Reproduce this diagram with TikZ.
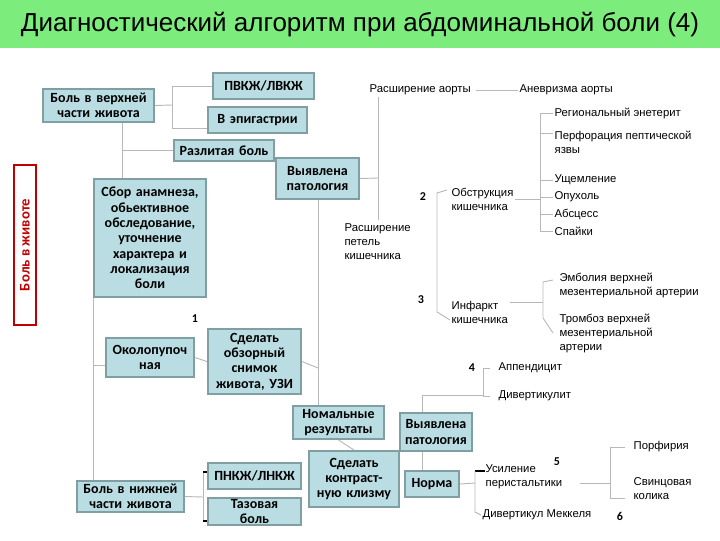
\documentclass[tikz,border=0pt]{standalone}
\usepackage{fontspec}
\setmainfont{Liberation Sans}
\newfontfamily\boxfont{Carlito}
\definecolor{boxfill}{HTML}{B9DDE2}
\definecolor{boxedge}{HTML}{7F9FA3}
\definecolor{ln}{HTML}{B8B8B8}
\definecolor{titlegreen}{HTML}{7CEC7C}
\definecolor{redbox}{HTML}{C00000}
\begin{document}
\begin{tikzpicture}[x=0.75pt,y=-0.75pt,
  bx/.style={draw=boxedge,line width=1.2pt,fill=boxfill,font=\boxfont\bfseries\fontsize{10.5}{11.5}\selectfont,align=center,inner sep=1pt,anchor=north west},
  tx/.style={font=\fontsize{8.5}{10.5}\selectfont,align=left,anchor=west,inner sep=1pt},
  num/.style={font=\boxfont\bfseries\fontsize{9}{10}\selectfont,inner sep=0pt},
  cn/.style={draw=ln,line width=0.7pt}]
\useasboundingbox (0,0) rectangle (720,540);
\fill[titlegreen] (0,0) rectangle (720,48);
\node[font=\fontsize{19.5}{22}\selectfont] (title) at (360,25) {Диагностический алгоритм при абдоминальной боли (4)};
% boxes
\newcommand{\bxn}[6]{\node[bx,minimum width=#4*0.75pt-1.2pt,minimum height=#5*0.75pt-1.2pt,text width=#4*0.75pt-4pt] (#1) at (#2,#3) {#6};}
\bxn{up}{42}{88}{113}{35}{Боль в верхней\\части живота}
\bxn{pv}{212}{72}{103}{28}{ПВКЖ/ЛВКЖ}
\bxn{ep}{207}{106}{101}{28}{В эпигастрии}
\bxn{raz}{173}{139}{102}{23}{Разлитая боль}
\bxn{vp1}{275}{157}{85}{43}{Выявлена\\патология}
\bxn{sb}{93}{178}{114}{120}{Сбор анамнеза,\\обьективное\\обследование,\\уточнение\\характера и\\локализация\\боли}
\bxn{ok}{105}{337}{90}{41}{Околопупоч\\ная}
\bxn{sn}{207}{328}{95}{67}{Сделать\\обзорный\\снимок\\живота, УЗИ}
\bxn{nr}{292}{405}{93}{35}{Номальные\\результаты}
\bxn{vp2}{399}{412}{74}{40}{Выявлена\\патология}
\bxn{kl}{308}{450}{92}{58}{Сделать\\контраст-\\ную клизму}
\bxn{nm}{404}{470}{56}{28}{Норма}
\bxn{pn}{207}{462}{95}{28}{ПНКЖ/ЛНКЖ}
\bxn{tz}{207}{497}{95}{28}{Тазовая\\боль}
\bxn{dn}{76}{480}{109}{33}{Боль в нижней\\части живота}
\node[draw=redbox,line width=1.5pt,fill=white,rotate=90,minimum width=160*0.75pt,minimum height=22*0.75pt,inner sep=0pt,font=\boxfont\bfseries\fontsize{11}{12}\selectfont,text=redbox] (side) at (25,245) {Боль в животе};
% plain texts
\node[tx] (ra) at (368,90) {Расширение аорты};
\node[tx] (an) at (518,90) {Аневризма аорты};
\node[tx] (re) at (553,113) {Региональный энетерит};
\node[tx] (pe) at (553,142) {Перфорация пептической\\язвы};
\node[tx] (us) at (553,180) {Ущемление};
\node[tx] (op) at (553,197) {Опухоль};
\node[tx] (ab) at (553,214) {Абсцесс};
\node[tx] (sp) at (553,231) {Спайки};
\node[num] (n2) at (423,197) {2};
\node[tx] (ob) at (450,199) {Обструкция\\кишечника};
\node[tx] (rp) at (343,242) {Расширение\\петель\\кишечника};
\node[num] (n3) at (421,300) {3};
\node[tx] (in) at (450,312) {Инфаркт\\кишечника};
\node[tx] (em) at (558,285) {Эмболия верхней\\мезентериальной артерии};
\node[tx] (tr) at (558,333) {Тромбоз верхней\\мезентериальной\\артерии};
\node[num] (n4) at (472,368) {4};
\node[tx] (ap) at (497,368) {Аппендицит};
\node[tx] (dv) at (497,396) {Дивертикулит};
\node[tx] (po) at (632,447) {Порфирия};
\node[num] (n5) at (557,462) {5};
\node[tx] (ui) at (484,477) {Усиление\\перистальтики};
\node[tx] (sv) at (632,489) {Свинцовая\\колика};
\node[tx] (mk) at (481,515) {Дивертикул Меккеля};
\node[num] (n6) at (620,516) {6};
\node[num] (n1) at (195,319) {1};
% connectors
\draw[cn] (up.east) -- (172,105);
\draw[cn] (172,86) -- (172,128);
\draw[cn] (172,86) -- (pv.west |- 0,86);
\draw[cn] (172,128) -- (ep.west |- 0,128);
\draw[cn] (up.south -| 122,0) -- (sb.north -| 122,0);
\draw[cn] (122,150) -- (raz.west |- 0,150);
\draw[cn] (sb.south west) -- (dn.north -| 93,0);
\draw[cn] (93,365) -- (ok.west |- 0,365);
\draw[cn] (ok.east) -- (sn.west);
\draw[cn] (vp1.south -| 318,0) -- (nr.north -| 318,0);
\draw[cn] (sn.east) -- (318,368);
\draw[cn] (vp1.east) -- (378,178);
\draw[cn] (378,97) -- (378,220);
\draw[cn] (ra.east) ++(4,0) -- (an.west);
\draw[cn] (447,190) -- (437,193) -- (437,312) -- (450,320);
\draw[cn] (ob.east) -- (540,199);
\draw[cn] (540,113) -- (540,231);
\foreach \y/\t in {113/re,133/pe,180/us,197/op,214/ab,231/sp} \draw[cn] (540,\y) -- (\t.west |- 0,\y);
\draw[cn] (in.east |- 0,302) -- (543,302);
\draw[cn] (553,280) -- (543,282) -- (543,318) -- (553,333);
\draw[cn] (vp2.north -| 422,0) -- (422,395) -- (483,395);
\draw[cn] (490,368) -- (483,368) -- (483,396) -- (490,396);
\draw[cn] (nr.south) -- (kl.north);
\draw[cn] (vp2.south -| 422,0) -- (nm.north -| 422,0);
\draw[cn] (nm.east) -- (475,483);
\draw[black,line width=0.8pt] (475,471) -- (485,471);
\draw[cn] (475,471) -- (475,512) -- (mk.west);
\draw[cn] (580,483) -- (610,483);
\draw[cn] (625,447) -- (610,447) -- (610,498) -- (625,498);
\draw[cn] (dn.east) -- (203,497);
\draw[cn] (203,472) -- (203,521);
\draw[black,line width=0.8pt] (203,472) -- (pn.west |- 0,472);
\draw[black,line width=0.8pt] (203,521) -- (tz.west |- 0,521);
\end{tikzpicture}
\end{document}
